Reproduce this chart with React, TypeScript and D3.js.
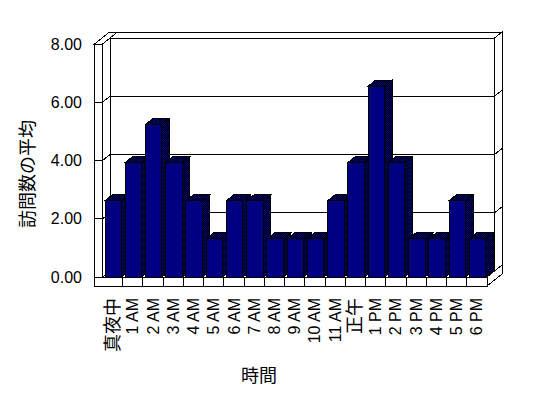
import * as d3 from "d3";

// hourly categories (x axis)
const categories = [
  "真夜中", "1 AM", "2 AM", "3 AM", "4 AM", "5 AM", "6 AM", "7 AM", "8 AM", "9 AM",
  "10 AM", "11 AM", "正午", "1 PM", "2 PM", "3 PM", "4 PM", "5 PM", "6 PM",
];
// average visits per hour
const visits = [
  2.62, 3.93, 5.24, 3.93, 2.62, 1.31, 2.62, 2.62, 1.31, 1.31,
  1.31, 2.62, 3.93, 6.55, 3.93, 1.31, 1.31, 2.62, 1.31,
];
const yTicks = [0, 2, 4, 6, 8];
const yTitle = "訪問数の平均";
const xTitle = "時間";

const W = 548;
const H = 398;
const FONT = "'Liberation Sans', Arial, 'Noto Sans CJK JP', sans-serif";

// plot box (front plane) and oblique depth step
const left = 102.5;
const right = 487;
const top = 44;
const base = 277;
const floorBottom = 286;
const wallOuter = 94.5;
const dx = 7.5; // one depth unit goes up-right
const dy = -6;

const P = (x: number, y: number, z: number): [number, number] => [x + dx * z, y + dy * z];
const poly = (pts: [number, number][]) => "M" + pts.map((p) => p.join(",")).join("L") + "Z";

export default function App() {
  const y = d3.scaleLinear().domain([0, 8]).range([base, top]);
  const x = d3.scaleBand<string>().domain(categories).range([left, right]).padding(0);
  const step = x.bandwidth();
  const barW = step * 0.815;
  const barOff = 2.5;
  const fmt = d3.format(".2f");

  // walls and floor, far faces first
  const faces = [
    // back wall front face
    [P(left, top, 1), P(right, top, 1), P(right, base, 1), P(left, base, 1)],
    // back wall top
    [P(left, top, 1), P(right, top, 1), P(right, top, 2), P(left, top, 2)],
    // back wall right side
    [P(right, top, 1), P(right, top, 2), P(right, base, 2), P(right, base, 1)],
    // left wall inner face
    [P(left, top, 0), P(left, top, 1), P(left, base, 1), P(left, base, 0)],
    // left wall top
    [P(wallOuter, top, 0), P(left, top, 0), P(left, top, 2), P(wallOuter, top, 2)],
    // left wall front
    [P(wallOuter, top, 0), P(left, top, 0), P(left, base, 0), P(wallOuter, base, 0)],
    // floor top
    [P(left, base, 0), P(right, base, 0), P(right, base, 1), P(left, base, 1)],
    // floor right side
    [P(right, base, 0), P(right, base, 2), P(right, floorBottom, 2), P(right, floorBottom, 0)],
    // floor front
    [P(wallOuter, base, 0), P(right, base, 0), P(right, floorBottom, 0), P(wallOuter, floorBottom, 0)],
  ];

  const grid = yTicks.filter((v) => v > 0 && v < 8);

  return (
    <svg
      width={W}
      height={H}
      style={{ position: "absolute", left: 0, top: 0, background: "#fff" }}
      fontFamily={FONT}
    >
      <defs>
        <pattern id="dither" width="2" height="2" patternUnits="userSpaceOnUse">
          <rect width="2" height="2" fill="#000" />
          <rect width="1" height="1" fill="#000080" />
          <rect x="1" y="1" width="1" height="1" fill="#000080" />
        </pattern>
      </defs>

      <g fill="#fff" stroke="#000" strokeWidth={1} shapeRendering="crispEdges">
        {faces.map((f, i) => (
          <path key={i} d={poly(f)} />
        ))}
      </g>

      {/* gridlines: tick on wall front, diagonal on inner wall, back wall, right side */}
      <g fill="none" stroke="#000" strokeWidth={1} shapeRendering="crispEdges">
        {grid.map((v) => {
          const yy = y(v);
          const pts: [number, number][] = [
            P(wallOuter, yy, 0),
            P(left, yy, 0),
            P(left, yy, 1),
            P(right, yy, 1),
            P(right, yy, 2),
          ];
          return <path key={v} d={"M" + pts.map((p) => p.join(",")).join("L")} />;
        })}
        {/* category ticks on the floor front */}
        {categories.slice(1).map((c) => (
          <line key={c} x1={x(c)!} x2={x(c)!} y1={base} y2={floorBottom} />
        ))}
      </g>

      {/* bars, left to right so each covers the previous side face */}
      <g stroke="#000" strokeWidth={1} shapeRendering="crispEdges">
        {categories.map((c, i) => {
          const x0 = x(c)! + barOff;
          const x1 = x0 + barW;
          const yt = y(visits[i]);
          return (
            <g key={c}>
              <path d={poly([P(x1, yt, 0), P(x1, yt, 1), P(x1, base, 1), P(x1, base, 0)])} fill="url(#dither)" />
              <path d={poly([P(x0, yt, 0), P(x1, yt, 0), P(x1, yt, 1), P(x0, yt, 1)])} fill="url(#dither)" />
              <rect x={x0} y={yt} width={barW} height={base - yt} fill="#000080" />
            </g>
          );
        })}
      </g>

      {/* y tick labels */}
      <g fontSize={16} textAnchor="end" fill="#000">
        {yTicks.map((v) => (
          <text key={v} x={82} y={y(v)} dominantBaseline="central">
            {fmt(v)}
          </text>
        ))}
      </g>

      {/* x tick labels, rotated */}
      <g fill="#000" textAnchor="end">
        {categories.map((c) => {
          const cx = x(c)! + step / 2;
          const cjk = /[^\x00-\x7f]/.test(c);
          return (
            <text
              key={c}
              transform={`translate(${cx},298) rotate(-90)`}
              dominantBaseline="central"
              fontSize={cjk ? 18 : 16}
            >
              {c}
            </text>
          );
        })}
      </g>

      <text
        transform="translate(28,174) rotate(-90)"
        textAnchor="middle"
        dominantBaseline="central"
        fontSize={18}
      >
        {yTitle}
      </text>
      <text x={259} y={376} textAnchor="middle" dominantBaseline="central" fontSize={18}>
        {xTitle}
      </text>
    </svg>
  );
}
